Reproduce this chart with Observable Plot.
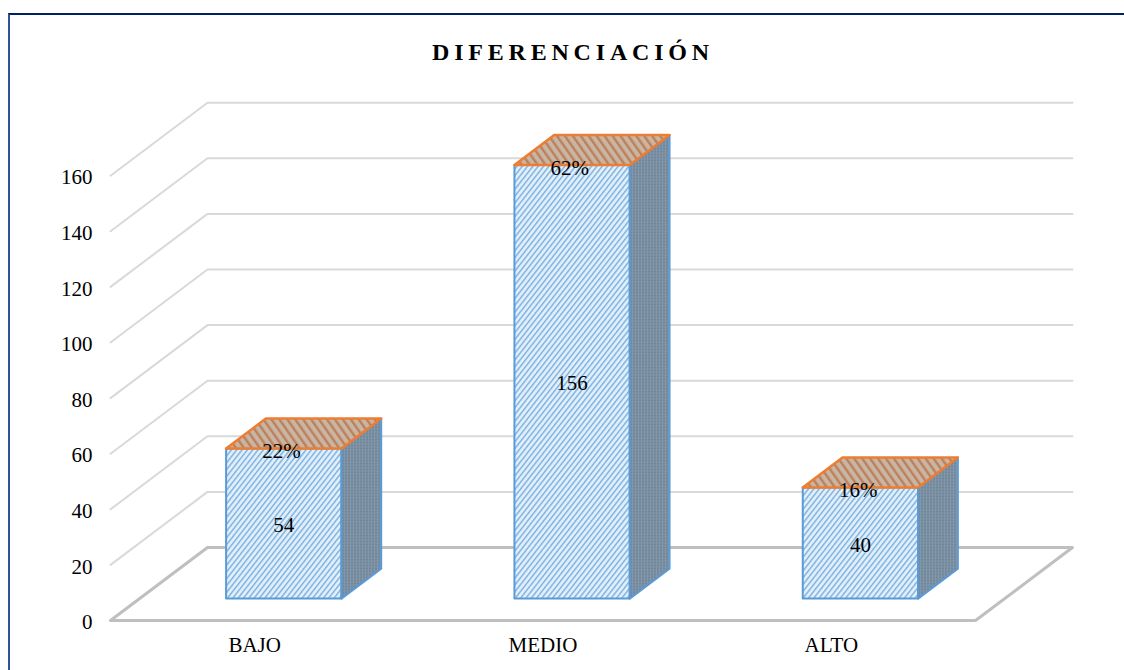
<!DOCTYPE html>
<html lang="es">
<head>
<meta charset="utf-8">
<title>Diferenciación</title>
<script src="https://cdn.jsdelivr.net/npm/d3@7"></script>
<script src="https://cdn.jsdelivr.net/npm/@observablehq/plot@0.6"></script>
<style>
  html, body { margin: 0; padding: 0; background: #fff; }
  #chart { position: relative; width: 1124px; height: 670px; overflow: hidden; font-family: "Liberation Serif", serif; }
  #frame { position: absolute; left: 8px; top: 13px; width: 1130px; height: 680px; border-left: 2px solid #2f5597; border-top: 2px solid #002060; box-sizing: border-box; }
  #heading { position: absolute; left: 432px; top: 39px; margin: 0; font: bold 24px "Liberation Serif", serif; letter-spacing: 4.8px; color: #000; white-space: nowrap; }
  #chart svg { position: absolute; left: 0; top: 0; }
</style>
</head>
<body>
<div id="chart">
  <div id="frame"></div>
  <h1 id="heading">DIFERENCIACIÓN</h1>
</div>
<script>
const categories = ["BAJO", "MEDIO", "ALTO"];
const counts = [54, 156, 40];
const shares = ["22%", "62%", "16%"];
const yTicks = [0, 20, 40, 60, 80, 100, 120, 140, 160];

// Oblique projection of the 3D box: depth 0 is the front of the floor, 1 the back wall.
const depthX = 0.3364;   // horizontal shift at full depth, in category units
const depthY = 26.26;    // vertical shift at full depth, in value units
const barHalf = 0.2;
const barNear = 0.3;
const barFar = 0.71;
const px = (c, d) => c + d * depthX;
const py = (v, d) => v + d * depthY;
const pt = (id, c, v, d) => ({id, x: px(c, d), y: py(v, d)});

// Wall grid lines: along the left side wall, then across the back wall.
const gridPts = yTicks.slice(1).flatMap((v) => [
  pt(v, 0, v, 0), pt(v, 0, v, 1), pt(v, categories.length, v, 1)
]);
const floorPts = [
  pt("floor", 0, 0, 0), pt("floor", 0, 0, 1),
  pt("floor", categories.length, 0, 1), pt("floor", categories.length, 0, 0),
  pt("floor", 0, 0, 0)
];

const cx = (i) => i + 0.5;
const frontFace = counts.flatMap((v, i) => [
  pt(i, cx(i) - barHalf, 0, barNear), pt(i, cx(i) + barHalf, 0, barNear),
  pt(i, cx(i) + barHalf, v, barNear), pt(i, cx(i) - barHalf, v, barNear),
  pt(i, cx(i) - barHalf, 0, barNear)
]);
const sideFace = counts.flatMap((v, i) => [
  pt(i, cx(i) + barHalf, 0, barNear), pt(i, cx(i) + barHalf, 0, barFar),
  pt(i, cx(i) + barHalf, v, barFar), pt(i, cx(i) + barHalf, v, barNear),
  pt(i, cx(i) + barHalf, 0, barNear)
]);
const topFace = counts.flatMap((v, i) => [
  pt(i, cx(i) - barHalf, v, barNear), pt(i, cx(i) + barHalf, v, barNear),
  pt(i, cx(i) + barHalf, v, barFar), pt(i, cx(i) - barHalf, v, barFar),
  pt(i, cx(i) - barHalf, v, barNear)
]);

const countLabels = counts.map((v, i) => ({
  x: px(cx(i), barNear), y: py(v / 2, barNear), text: String(v)
}));
const shareLabels = counts.map((v, i) => ({
  x: px(cx(i), barNear) - 0.008, y: py(v, barNear), text: shares[i]
}));

// Hatch fills for the three visible faces of each bar.
function hatchDefs() {
  const defs = d3.create("svg:defs");
  const front = defs.append("pattern").attr("id", "hatch-front")
    .attr("patternUnits", "userSpaceOnUse").attr("width", 4.2).attr("height", 5)
    .attr("patternTransform", "rotate(38)");
  front.append("rect").attr("width", 4.2).attr("height", 5).attr("fill", "#e0effb");
  front.append("rect").attr("width", 1.5).attr("height", 5).attr("fill", "#82b4e0");

  const top = defs.append("pattern").attr("id", "hatch-top")
    .attr("patternUnits", "userSpaceOnUse").attr("width", 6.5).attr("height", 7)
    .attr("patternTransform", "rotate(-35)");
  top.append("rect").attr("width", 6.5).attr("height", 7).attr("fill", "#c9b5a3");
  top.append("rect").attr("width", 2.4).attr("height", 7).attr("fill", "#bd805a");

  const side = defs.append("pattern").attr("id", "hatch-side")
    .attr("patternUnits", "userSpaceOnUse").attr("width", 3).attr("height", 3);
  side.append("rect").attr("width", 3).attr("height", 3).attr("fill", "#8297aa");
  side.append("rect").attr("width", 1).attr("height", 2).attr("fill", "#62748a");
  return defs.node();
}

const plot = Plot.plot({
  width: 1124,
  height: 670,
  marginLeft: 110,
  marginRight: 149,
  marginTop: 175,
  marginBottom: 50,
  style: {fontFamily: '"Liberation Serif", serif', fontSize: "21px", color: "#000", background: "transparent"},
  x: {type: "linear", domain: [0, categories.length], range: [110, 975]},
  y: {type: "linear", domain: [0, 160], range: [620, 175.2]},
  marks: [
    hatchDefs,
    Plot.line(gridPts, {x: "x", y: "y", z: "id", stroke: "#d9d9d9", strokeWidth: 2}),
    Plot.line(floorPts, {x: "x", y: "y", z: "id", stroke: "#bfbfbf", strokeWidth: 3}),
    Plot.line(frontFace, {x: "x", y: "y", z: "id", fill: "url(#hatch-front)", stroke: "#5b9bd5", strokeWidth: 2}),
    Plot.line(sideFace, {x: "x", y: "y", z: "id", fill: "url(#hatch-side)", stroke: "#5b9bd5", strokeWidth: 2}),
    Plot.line(topFace, {x: "x", y: "y", z: "id", fill: "url(#hatch-top)", stroke: "#ed7d31", strokeWidth: 2.5}),
    Plot.text(countLabels, {x: "x", y: "y", text: "text", fontSize: 21, fill: "#000", dy: 2}),
    Plot.text(shareLabels, {x: "x", y: "y", text: "text", fontSize: 21, fill: "#000", dy: 3}),
    Plot.axisY({ticks: yTicks, tickSize: 0, tickPadding: 18, label: null, fontSize: 21, dy: 2}),
    Plot.axisX({
      ticks: categories.map((_, i) => cx(i)),
      tickFormat: (d) => categories[Math.round(d - 0.5)],
      tickSize: 0, tickPadding: 17, label: null, fontSize: 21
    })
  ]
});
document.getElementById("chart").appendChild(plot);
</script>
</body>
</html>
